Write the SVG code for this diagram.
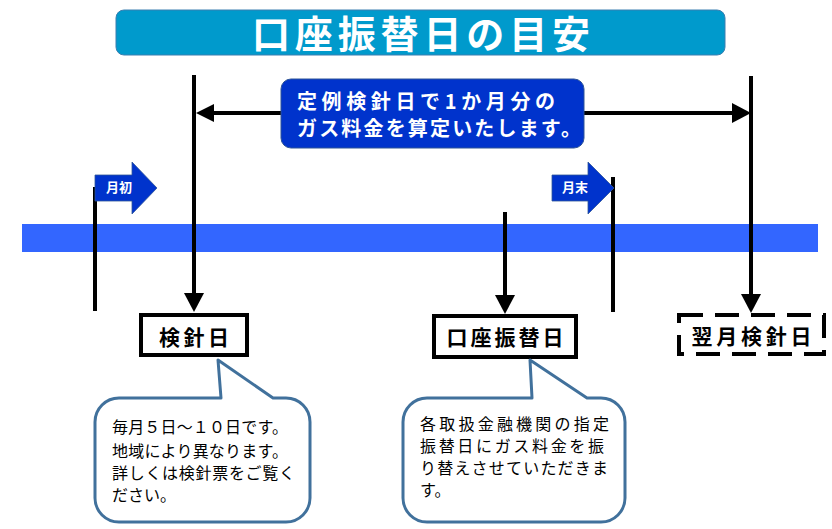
<svg xmlns="http://www.w3.org/2000/svg" width="832" height="529" viewBox="0 0 832 529">
<style>
text{font-family:"Noto Sans CJK JP","Noto Sans",sans-serif}
.wb{fill:#fff;font-weight:bold}
.lbl{fill:#000;font-weight:bold;font-size:21px;text-anchor:middle}
.box{fill:#fff;stroke:#000;stroke-width:4}
.call{fill:#fff;stroke:#41719C;stroke-width:3;stroke-linejoin:round}
.ct{fill:#000;font-size:16px}
.ln{stroke:#000;stroke-width:4;fill:none}
.mon{fill:#0033CC;stroke:#2F5597;stroke-width:0.8}
</style>
<defs>
<marker id="ah" markerUnits="userSpaceOnUse" markerWidth="20" markerHeight="20" refX="0" refY="10" orient="auto">
<path d="M0,0 L19,10 L0,20 Z" fill="#000"/>
</marker>
</defs>

<g id="title">
<rect x="116" y="10" width="609" height="45" rx="8" fill="#009ACC" stroke="#3A7FB0" stroke-width="1"/>
<text x="252" y="48" class="wb" font-size="38" textLength="338" lengthAdjust="spacing">口座振替日の目安</text>
</g>

<g id="timeline">
<rect x="22" y="224" width="796" height="28" fill="#3366FF"/>
</g>

<g id="connectors">
<line class="ln" x1="95" y1="187" x2="95" y2="311"/>
<line class="ln" x1="613" y1="177" x2="613" y2="312"/>
<line class="ln" x1="194" y1="75" x2="194" y2="293" marker-end="url(#ah)"/>
<line class="ln" x1="505" y1="212" x2="505" y2="295" marker-end="url(#ah)"/>
<line class="ln" x1="751" y1="76" x2="751" y2="294" marker-end="url(#ah)"/>
<line class="ln" x1="214" y1="113" x2="732" y2="113" marker-end="url(#ah)"/>
<path d="M196,113 L214,104 L214,122 Z" fill="#000"/>
</g>

<g id="period-note">
<rect x="281" y="79" width="303" height="69" rx="10" fill="#0033CC" stroke="#2F5597" stroke-width="1"/>
<text x="297" y="109" class="wb" font-size="20" textLength="258" lengthAdjust="spacing">定例検針日で1か月分の</text>
<text x="297" y="136" class="wb" font-size="20" textLength="284" lengthAdjust="spacing">ガス料金を算定いたします。</text>
</g>

<g id="month-start">
<polygon class="mon" points="95,175 132,175 132,162 157,188 132,214 132,201 95,201"/>
<text x="106" y="192" class="wb" font-size="13">月初</text>
</g>

<g id="month-end">
<polygon class="mon" points="552,175 588,175 588,162 614,188 588,214 588,201 552,201"/>
<text x="562" y="192" class="wb" font-size="13">月末</text>
</g>

<g id="meter-day">
<rect class="box" x="141" y="315" width="106" height="40"/>
<text class="lbl" x="194" y="345" textLength="70" lengthAdjust="spacing">検針日</text>
</g>

<g id="transfer-day">
<rect class="box" x="434" y="316" width="142" height="41"/>
<text class="lbl" x="505" y="345" textLength="117" lengthAdjust="spacing">口座振替日</text>
</g>

<g id="next-meter-day">
<rect class="box" x="679" y="315" width="145" height="39" stroke-dasharray="24 12"/>
<text class="lbl" x="751.5" y="344" textLength="120" lengthAdjust="spacing">翌月検針日</text>
</g>

<g id="meter-note">
<path class="call" d="M119,398 L221,398 L218,360 L273,398 L286,398 A24,24 0 0 1 310,422 L310,498 A24,24 0 0 1 286,522 L119,522 A24,24 0 0 1 95,498 L95,422 A24,24 0 0 1 119,398 Z"/>
<text class="ct" x="112" y="433" textLength="176" lengthAdjust="spacing">毎月５日～１０日です。</text>
<text class="ct" x="112" y="457" textLength="176" lengthAdjust="spacing">地域により異なります。</text>
<text class="ct" x="112" y="479" textLength="183" lengthAdjust="spacing">詳しくは検針票をご覧く</text>
<text class="ct" x="112" y="501">ださい。</text>
</g>

<g id="transfer-note">
<path class="call" d="M427,398 L532,398 L530,360 L587,398 L601,398 A24,24 0 0 1 625,422 L625,498 A24,24 0 0 1 601,522 L427,522 A24,24 0 0 1 403,498 L403,422 A24,24 0 0 1 427,398 Z"/>
<text class="ct" x="420" y="430" textLength="189" lengthAdjust="spacing">各取扱金融機関の指定</text>
<text class="ct" x="420" y="452" textLength="184" lengthAdjust="spacing">振替日にガス料金を振</text>
<text class="ct" x="420" y="474" textLength="188" lengthAdjust="spacing">り替えさせていただきま</text>
<text class="ct" x="420" y="496">す。</text>
</g>
</svg>
